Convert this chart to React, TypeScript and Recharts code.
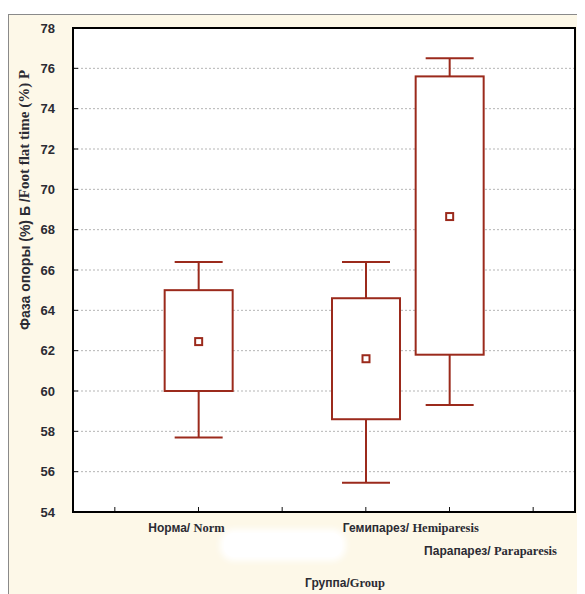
import React from "react"
import { ComposedChart, Bar, XAxis, YAxis, CartesianGrid, Label } from "recharts"

// slots along the x axis (6 ticks), groups sit on slots 2, 4, 5
const slots = [1, 2, 3, 4, 5, 6]
const groupSlot = [2, 4, 5]
const groupRu = ["Норма/ ", "Гемипарез/ ", "Парапарез/ "]
const groupEn = ["Norm", "Hemiparesis", "Paraparesis"]

const whiskerMin = [57.7, 55.45, 59.3]
const boxLow = [60.0, 58.6, 61.8]
const mean = [62.45, 61.6, 68.65]
const boxHigh = [65.0, 64.6, 75.6]
const whiskerMax = [66.4, 66.4, 76.5]

const yTicks = [54, 56, 58, 60, 62, 64, 66, 68, 70, 72, 74, 76, 78]

const data = slots.map((s) => {
  const i = groupSlot.indexOf(s)
  if (i < 0) return { slot: s, range: null }
  return {
    slot: s,
    range: [whiskerMin[i], whiskerMax[i]],
    min: whiskerMin[i],
    q1: boxLow[i],
    mean: mean[i],
    q3: boxHigh[i],
    max: whiskerMax[i],
  }
})

const RED = "#9b2a1c"
const INK = "#2b2b33"

// chart box inside the frame
const W = 576
const H = 579
const M = { top: 13, right: 10, left: 0, bottom: 0 }
const Y_AXIS_W = 64
const X_AXIS_H = 82

// label offsets (Statistica places these a bit off the tick)
const labelDx: Record<number, number> = { 2: -12, 4: 45, 5: 41 }
const labelDy: Record<number, number> = { 2: 20, 4: 20, 5: 43 }

function BoxShape(props: any) {
  const { x, y, width, height, payload } = props
  if (!payload || payload.range == null) return null
  const top = Math.min(y, y + height)
  const bottom = Math.max(y, y + height)
  const k = (bottom - top) / (payload.max - payload.min)
  const toY = (v: number) => top + (payload.max - v) * k
  const cx = x + width / 2
  const cap = 24
  return (
    <g stroke={RED} strokeWidth={2} fill="none">
      <line x1={cx} x2={cx} y1={toY(payload.max)} y2={toY(payload.q3)} />
      <line x1={cx} x2={cx} y1={toY(payload.q1)} y2={toY(payload.min)} />
      <line x1={cx - cap} x2={cx + cap} y1={toY(payload.max)} y2={toY(payload.max)} />
      <line x1={cx - cap} x2={cx + cap} y1={toY(payload.min)} y2={toY(payload.min)} />
      <rect x={x} y={toY(payload.q3)} width={width} height={toY(payload.q1) - toY(payload.q3)} fill="#fff" />
      <rect x={cx - 3.5} y={toY(payload.mean) - 3.5} width={7} height={7} fill="#fff" />
    </g>
  )
}

function GroupTick(props: any) {
  const { x, y, payload } = props
  const i = groupSlot.indexOf(payload.value)
  if (i < 0) return <g />
  return (
    <text
      x={x + labelDx[payload.value]}
      y={y + labelDy[payload.value]}
      textAnchor="middle"
      fill={INK}
      fontSize={12}
      fontWeight="bold"
    >
      <tspan fontFamily="Liberation Sans, Arial, sans-serif">{groupRu[i]}</tspan>
      <tspan fontFamily="Liberation Serif, Times New Roman, serif" fontSize={12.5}>{groupEn[i]}</tspan>
    </text>
  )
}

function YTitle(props: any) {
  const { viewBox } = props
  const cx = viewBox.x + 17
  const cy = viewBox.y + viewBox.height / 2 - 70
  return (
    <text x={cx} y={cy} transform={`rotate(-90 ${cx} ${cy})`} textAnchor="middle" dominantBaseline="middle" fill={INK} fontSize={14} fontWeight="bold">
      <tspan fontFamily="Liberation Sans, Arial, sans-serif">Фаза опоры (%) Б /</tspan>
      <tspan fontFamily="Liberation Serif, Times New Roman, serif" fontSize={15}>Foot flat time (%) P</tspan>
    </text>
  )
}

function XTitle(props: any) {
  const { viewBox } = props
  return (
    <text x={viewBox.x + viewBox.width / 2 + 21} y={viewBox.y + 75} textAnchor="middle" fill={INK} fontSize={12} fontWeight="bold">
      <tspan fontFamily="Liberation Sans, Arial, sans-serif">Группа/</tspan>
      <tspan fontFamily="Liberation Serif, Times New Roman, serif" fontSize={12.5}>Group</tspan>
    </text>
  )
}

export default function App() {
  return (
    <div style={{ position: "relative", width: 577, height: 586, background: "#fff" }}>
      <div
        style={{
          position: "absolute",
          left: 0,
          top: 6,
          width: W,
          height: H,
          background: "#fdf8e8",
          borderTop: "1px solid #8a8a8a",
          borderLeft: "1px solid #8a8a8a",
        }}
      >
        <div
          style={{
            position: "absolute",
            left: 215,
            top: 518,
            width: 118,
            height: 24,
            background: "#fff",
            borderRadius: 10,
            boxShadow: "0 0 6px 4px #fff",
          }}
        />
        <ComposedChart width={W} height={H} data={data} margin={M}>
          <CartesianGrid vertical={false} fill="#fff" stroke="#b5b5b5" strokeDasharray="2 2" />
          <XAxis
            dataKey="slot"
            type="category"
            interval={0}
            height={X_AXIS_H}
            axisLine={{ stroke: "#111", strokeWidth: 1.5 }}
            tickLine={{ stroke: "#111" }}
            tickSize={-5}
            tickMargin={5}
            tick={<GroupTick />}
          >
            <Label content={<XTitle />} />
          </XAxis>
          <YAxis
            domain={[54, 78]}
            ticks={yTicks}
            interval={0}
            width={Y_AXIS_W}
            axisLine={{ stroke: "#111", strokeWidth: 1.5 }}
            tickLine={{ stroke: "#111" }}
            tickSize={-5}
            tickMargin={23}
            tick={{ fill: INK, fontSize: 13, fontWeight: "bold", fontFamily: "Liberation Sans, Arial, sans-serif" }}
          >
            <Label content={<YTitle />} />
          </YAxis>
          <Bar dataKey="range" barSize={68} shape={<BoxShape />} isAnimationActive={false} />
        </ComposedChart>
        {/* plot frame drawn over the chart */}
        <div
          style={{
            position: "absolute",
            zIndex: 5,
            boxSizing: "border-box",
            left: M.left + Y_AXIS_W - 1,
            top: M.top - 1,
            width: W - M.left - M.right - Y_AXIS_W + 2,
            height: H - M.top - M.bottom - X_AXIS_H + 2,
            border: "2px solid #000",
            pointerEvents: "none",
          }}
        />
      </div>
    </div>
  )
}
